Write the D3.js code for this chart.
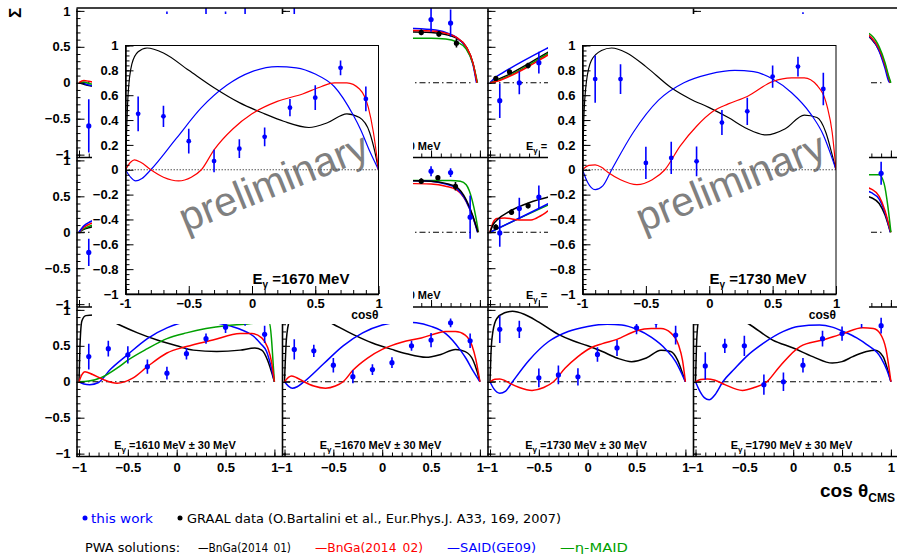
<!DOCTYPE html>
<html>
<head>
<meta charset="utf-8">
<script src="https://cdn.jsdelivr.net/npm/d3@7"></script>
<style>
body { margin: 0; background: #fff; }
svg { display: block; font-family: "Liberation Sans", Arial, sans-serif; }
</style>
</head>
<body>
<div id="chart"></div>
<script>
// ---- data: beam asymmetry Sigma vs cos(theta) ----
const cosBins = [-0.9, -0.7, -0.5, -0.3, -0.1, 0.1, 0.3, 0.5, 0.7, 0.9];

const sig1610 = [0.35, 0.46, 0.375, 0.21, 0.12, 0.39, 0.6, 0.76, 0.9, 0.66];
const err1610 = [0.18, 0.11, 0.12, 0.10, 0.09, 0.08, 0.07, 0.08, 0.12, 0.12];
const sig1670 = [0.45, 0.43, 0.23, 0.07, 0.17, 0.265, 0.5, 0.58, 0.82, 0.57];
const err1670 = [0.14, 0.085, 0.10, 0.09, 0.075, 0.075, 0.07, 0.10, 0.06, 0.10];
const sig1730 = [0.73, 0.73, 0.055, 0.095, 0.068, 0.38, 0.47, 0.75, 0.83, 0.65];
const err1730 = [0.19, 0.12, 0.13, 0.13, 0.12, 0.10, 0.11, 0.09, 0.08, 0.13];
const sig1790 = [0.22, 0.5, 0.5, -0.04, 0.0, 0.23, 0.6, 0.67, 0.85, 0.78];
const err1790 = [0.19, 0.10, 0.14, 0.14, 0.13, 0.10, 0.11, 0.10, 0.10, 0.11];

// PWA curves [cos, sigma]
const bnga01_1610 = [[-1,0],[-0.99,0.5],[-0.97,0.85],[-0.93,0.92],[-0.85,0.93],[-0.75,0.9],[-0.6,0.8],[-0.4,0.68],[-0.2,0.58],[0,0.5],[0.17,0.44],[0.41,0.42],[0.65,0.44],[0.8,0.47],[0.87,0.44],[0.93,0.3],[0.97,0.14],[1,0]];
const bnga02_1610 = [[-1,0],[-0.97,0.1],[-0.94,0.14],[-0.86,0.1],[-0.75,0.03],[-0.61,-0.02],[-0.45,0.05],[-0.3,0.21],[-0.1,0.4],[0.1,0.49],[0.37,0.58],[0.65,0.67],[0.77,0.67],[0.87,0.61],[0.93,0.48],[0.97,0.28],[1,0]];
const said_1610 = [[-1,0],[-0.95,-0.03],[-0.89,-0.04],[-0.8,-0.01],[-0.68,0.17],[-0.5,0.38],[-0.3,0.6],[-0.1,0.75],[0.1,0.83],[0.3,0.84],[0.51,0.79],[0.65,0.73],[0.78,0.64],[0.86,0.53],[0.92,0.42],[0.96,0.24],[1,0]];
const maid_1610 = [[-1,0],[-0.9,0.01],[-0.77,0.06],[-0.6,0.2],[-0.5,0.3],[-0.3,0.46],[-0.1,0.6],[0.1,0.68],[0.3,0.74],[0.5,0.78],[0.7,0.8],[0.85,0.82],[0.95,0.82],[0.97,0.6],[0.985,0.3],[1,0]];

const bnga01_1670 = [[-1,0],[-0.98,0.6],[-0.95,0.85],[-0.9,0.95],[-0.83,0.98],[-0.7,0.94],[-0.5,0.8],[-0.3,0.66],[-0.1,0.54],[0.1,0.45],[0.25,0.39],[0.45,0.34],[0.6,0.38],[0.75,0.45],[0.85,0.42],[0.93,0.3],[0.97,0.15],[1,0]];
const bnga02_1670 = [[-1,0],[-0.96,0.06],[-0.93,0.08],[-0.88,0.06],[-0.8,0],[-0.7,-0.06],[-0.58,-0.09],[-0.48,-0.06],[-0.4,0],[-0.3,0.16],[-0.15,0.33],[0,0.45],[0.2,0.55],[0.4,0.61],[0.55,0.67],[0.65,0.7],[0.75,0.7],[0.85,0.65],[0.92,0.5],[0.96,0.3],[1,0]];
const said_1670 = [[-1,0],[-0.96,-0.06],[-0.92,-0.09],[-0.87,-0.07],[-0.8,0],[-0.6,0.25],[-0.4,0.5],[-0.2,0.68],[0,0.79],[0.2,0.83],[0.35,0.82],[0.5,0.77],[0.65,0.67],[0.8,0.44],[0.86,0.32],[0.93,0.15],[1,0]];

const bnga01_1730 = [[-1,0],[-0.99,0.4],[-0.97,0.7],[-0.93,0.88],[-0.85,0.96],[-0.77,0.98],[-0.65,0.94],[-0.5,0.83],[-0.3,0.66],[-0.15,0.57],[0,0.5],[0.15,0.42],[0.3,0.33],[0.45,0.28],[0.6,0.33],[0.75,0.44],[0.85,0.42],[0.92,0.3],[0.97,0.12],[1,0]];
const bnga02_1730 = [[-1,0],[-0.95,0.035],[-0.9,0.04],[-0.85,0.02],[-0.8,-0.02],[-0.7,-0.08],[-0.57,-0.12],[-0.45,-0.08],[-0.35,0],[-0.23,0.19],[-0.1,0.35],[0.03,0.47],[0.15,0.53],[0.3,0.59],[0.5,0.71],[0.65,0.74],[0.75,0.74],[0.85,0.68],[0.93,0.51],[0.97,0.3],[1,0]];
const said_1730 = [[-1,0],[-0.96,-0.1],[-0.9,-0.16],[-0.84,-0.13],[-0.77,0],[-0.6,0.3],[-0.4,0.56],[-0.2,0.7],[0,0.77],[0.2,0.8],[0.35,0.79],[0.5,0.73],[0.65,0.62],[0.8,0.45],[0.9,0.28],[0.96,0.12],[1,0]];

const bnga01_1790 = [[-1,0],[-0.99,0.5],[-0.97,0.85],[-0.93,0.97],[-0.85,1.0],[-0.7,0.97],[-0.55,0.88],[-0.45,0.8],[-0.21,0.58],[0,0.47],[0.2,0.35],[0.4,0.26],[0.5,0.28],[0.61,0.35],[0.75,0.42],[0.84,0.44],[0.92,0.35],[0.96,0.2],[1,0]];
const bnga02_1790 = [[-1,0],[-0.95,0.03],[-0.88,0.04],[-0.8,0.02],[-0.7,-0.04],[-0.52,-0.12],[-0.4,-0.08],[-0.27,0],[-0.14,0.21],[0.07,0.49],[0.3,0.58],[0.51,0.67],[0.71,0.75],[0.82,0.74],[0.89,0.67],[0.95,0.45],[0.98,0.2],[1,0]];
const said_1790 = [[-1,0],[-0.96,-0.12],[-0.91,-0.22],[-0.86,-0.25],[-0.8,-0.18],[-0.72,0],[-0.6,0.18],[-0.48,0.35],[-0.3,0.54],[-0.1,0.7],[0.05,0.77],[0.27,0.79],[0.4,0.76],[0.51,0.7],[0.65,0.61],[0.75,0.52],[0.9,0.33],[0.96,0.16],[1,0]];

// lower-energy panels (mostly covered by the two enlarged pads)
const bnga01_1130 = [[-1,0],[-0.95,-0.02],[-0.9,-0.04],[-0.84,-0.05]];
const bnga02_1130 = [[-1,0],[-0.95,0.03],[-0.9,0.02],[-0.84,0.0]];
const said_1130 = [[-1,0],[-0.95,-0.01],[-0.9,-0.03],[-0.84,-0.04]];
const maid_1130 = [[-1,0],[-0.95,0.01],[-0.9,-0.01],[-0.84,-0.02]];
const work1130 = { cos: [-0.9, -0.1, 0.3, 0.5, 0.7], sig: [-0.6, 0.86, 0.8, 0.87, 0.9], err: [0.37, 0.13, 0.3, 0.12, 0.2] };

const bnga01_1190 = [[0.25,0.71],[0.5,0.70],[0.65,0.67],[0.76,0.62],[0.86,0.5],[0.93,0.27],[0.97,0]];
const bnga02_1190 = [[0.25,0.73],[0.5,0.72],[0.65,0.69],[0.76,0.63],[0.86,0.5],[0.93,0.27],[0.97,0]];
const said_1190 = [[0.25,0.76],[0.5,0.74],[0.65,0.7],[0.76,0.63],[0.86,0.49],[0.93,0.25],[0.965,0]];
const maid_1190 = [[0.25,0.62],[0.5,0.62],[0.65,0.61],[0.76,0.57],[0.86,0.47],[0.93,0.26],[0.975,0]];
const work1190 = { cos: [-0.9, 0.5, 0.7], sig: [0.8, 0.88, 0.83], err: [0.3, 0.17, 0.19] };
const graal1190 = { cos: [0.4, 0.58, 0.76], sig: [0.70, 0.68, 0.55], err: [0.04, 0.04, 0.06] };

const bnga01_1250 = [[-1,0],[-0.93,0.04],[-0.8,0.12],[-0.6,0.27],[-0.4,0.43],[-0.3,0.5]];
const bnga02_1250 = [[-1,0],[-0.93,0.02],[-0.8,0.09],[-0.6,0.23],[-0.4,0.39],[-0.3,0.46]];
const said_1250 = [[-1,0],[-0.95,0.07],[-0.88,0.13],[-0.4,0.49],[-0.3,0.56]];
const maid_1250 = [[-1,0],[-0.93,0.03],[-0.8,0.1],[-0.6,0.25],[-0.4,0.41],[-0.3,0.48]];
const work1250 = { cos: [-0.9, -0.7, -0.5], sig: [-0.25, 0.0, 0.28], err: [0.24, 0.16, 0.15] };
const graal1250 = { cos: [-0.94, -0.8, -0.61], sig: [0.06, 0.15, 0.24], err: [0.03, 0.03, 0.04] };

const bnga01_1310 = [[0.7,0.68],[0.8,0.61],[0.88,0.45],[0.94,0.23],[0.98,0.05],[0.995,0]];
const bnga02_1310 = [[0.7,0.7],[0.8,0.63],[0.88,0.47],[0.94,0.25],[0.98,0.06],[0.995,0]];
const said_1310 = [[0.7,0.69],[0.8,0.62],[0.88,0.44],[0.94,0.2],[0.975,0.03],[0.99,0]];
const maid_1310 = [[0.7,0.72],[0.8,0.66],[0.88,0.5],[0.94,0.28],[0.98,0.08],[1,0]];
const work1310 = { cos: [0.1], sig: [0.86], err: [0.12] };

const bnga01_1370 = [[-1,0],[-0.95,0.04],[-0.88,0.07],[-0.8,0.1]];
const bnga02_1370 = [[-1,0],[-0.95,0.07],[-0.88,0.12],[-0.8,0.16]];
const said_1370 = [[-1,0],[-0.95,0.09],[-0.88,0.15],[-0.8,0.2]];
const maid_1370 = [[-1,0],[-0.95,0.05],[-0.88,0.09],[-0.8,0.13]];
const work1370 = { cos: [-0.9], sig: [-0.28], err: [0.19] };

const bnga01_1430 = [[0.25,0.72],[0.5,0.71],[0.65,0.68],[0.76,0.63],[0.86,0.45],[0.93,0.22],[0.98,0]];
const bnga02_1430 = [[0.25,0.68],[0.5,0.67],[0.65,0.64],[0.76,0.59],[0.86,0.43],[0.93,0.21],[0.98,0]];
const said_1430 = [[0.25,0.72],[0.5,0.71],[0.65,0.67],[0.76,0.61],[0.86,0.43],[0.93,0.2],[0.975,0]];
const maid_1430 = [[0.25,0.72],[0.5,0.72],[0.7,0.72],[0.8,0.71],[0.86,0.66],[0.92,0.45],[0.96,0.2],[0.985,0]];
const work1430 = { cos: [0.5, 0.7, 0.9], sig: [0.85, 0.83, 0.21], err: [0.07, 0.06, 0.3] };
const graal1430 = { cos: [0.4, 0.57, 0.75], sig: [0.71, 0.76, 0.64], err: [0.04, 0.03, 0.06] };

const bnga01_1490 = [[-1,0],[-0.97,0.1],[-0.92,0.18],[-0.8,0.29],[-0.6,0.41],[-0.4,0.49],[-0.3,0.52]];
const bnga02_1490 = [[-1,0],[-0.97,0.13],[-0.93,0.19],[-0.85,0.2],[-0.7,0.17],[-0.58,0.17],[-0.48,0.23],[-0.4,0.3],[-0.3,0.38]];
const said_1490 = [[-1,0],[-0.4,0.4],[-0.3,0.47]];
const maid_1490 = [[-1,0],[-0.4,0.38],[-0.3,0.44]];
const work1490 = { cos: [-0.9, -0.7, -0.5], sig: [-0.01, 0.33, 0.49], err: [0.19, 0.15, 0.16] };
const graal1490 = { cos: [-0.94, -0.78, -0.61], sig: [0.07, 0.28, 0.37], err: [0.04, 0.04, 0.04] };

const bnga01_1550 = [[0.7,0.52],[0.8,0.48],[0.88,0.4],[0.94,0.24],[0.98,0.07],[0.995,0]];
const bnga02_1550 = [[0.7,0.64],[0.8,0.6],[0.88,0.5],[0.94,0.3],[0.98,0.1],[1,0]];
const said_1550 = [[0.7,0.59],[0.8,0.55],[0.88,0.46],[0.94,0.27],[0.98,0.08],[0.995,0]];
const maid_1550 = [[0.7,0.8],[0.88,0.8],[0.93,0.68],[0.97,0.35],[1,0]];
const work1550 = { cos: [0.9], sig: [0.82], err: [0.16] };

const energyGrid = [[1130, 1190, 1250, 1310], [1370, 1430, 1490, 1550], [1610, 1670, 1730, 1790]];
const yTicksMajor = [-1, -0.5, 0, 0.5, 1];
const xTicksMajor = [-1, -0.5, 0, 0.5, 1];
const insetYTicks = [-1, -0.8, -0.6, -0.4, -0.2, 0, 0.2, 0.4, 0.6, 0.8, 1];
const insetEnergies = [1670, 1730];

const colors = { bnga01: '#000000', bnga02: '#ff0000', said: '#0000ff', maid: '#00a000' };
const workColor = '#0000ff';

// table built from the arrays above
const panels = {
  1130: { curves: { bnga01: bnga01_1130, said: said_1130, maid: maid_1130, bnga02: bnga02_1130 }, work: work1130 },
  1190: { curves: { bnga01: bnga01_1190, said: said_1190, maid: maid_1190, bnga02: bnga02_1190 }, work: work1190, graal: graal1190 },
  1250: { curves: { bnga01: bnga01_1250, said: said_1250, maid: maid_1250, bnga02: bnga02_1250 }, work: work1250, graal: graal1250 },
  1310: { curves: { bnga01: bnga01_1310, said: said_1310, bnga02: bnga02_1310, maid: maid_1310 }, work: work1310 },
  1370: { curves: { bnga01: bnga01_1370, maid: maid_1370, bnga02: bnga02_1370, said: said_1370 }, work: work1370 },
  1430: { curves: { maid: maid_1430, bnga02: bnga02_1430, said: said_1430, bnga01: bnga01_1430 }, work: work1430, graal: graal1430 },
  1490: { curves: { maid: maid_1490, said: said_1490, bnga02: bnga02_1490, bnga01: bnga01_1490 }, work: work1490, graal: graal1490 },
  1550: { curves: { bnga01: bnga01_1550, said: said_1550, bnga02: bnga02_1550, maid: maid_1550 }, work: work1550 },
  1610: { curves: { bnga01: bnga01_1610, said: said_1610, maid: maid_1610, bnga02: bnga02_1610 }, work: { cos: cosBins, sig: sig1610, err: err1610 } },
  1670: { curves: { bnga01: bnga01_1670, said: said_1670, bnga02: bnga02_1670 }, work: { cos: cosBins, sig: sig1670, err: err1670 } },
  1730: { curves: { bnga01: bnga01_1730, said: said_1730, bnga02: bnga02_1730 }, work: { cos: cosBins, sig: sig1730, err: err1730 } },
  1790: { curves: { bnga01: bnga01_1790, said: said_1790, bnga02: bnga02_1790 }, work: { cos: cosBins, sig: sig1790, err: err1790 } }
};

// ---- layout ----
const width = 897, height = 554;
const colMinus1 = [79, 284.5, 490, 695.5];   // pixel of cos = -1 in each column
const unitX = 97.7;
const colStep = 205.5;
const axisOffset = 2.5;
const rowTop = [8, 157.5, 307];
const rowH = 149.5;

const insetPads = [{ x0: 92, x1: 413 }, { x0: 548, x1: 869 }];
const insetFrames = [{ x0: 125.5, x1: 378.5 }, { x0: 582.5, x1: 836 }];
const padTop = 14, padBottom = 324;
const frameTop = 45.5, frameBottom = 294;

const svg = d3.select('#chart').append('svg')
  .attr('width', width)
  .attr('height', height);

const defs = svg.append('defs');
const line = (x, y) => d3.line().x(d => x(d[0])).y(d => y(d[1])).curve(d3.curveMonotoneX);
const range01 = (a, b, s) => d3.range(Math.round(a / s), Math.round(b / s) + 1).map(i => +(i * s).toFixed(3));
const boldFont = s => s.attr('font-size', 13).attr('font-weight', 'bold')
  .attr('font-family', '"Liberation Sans", Arial, sans-serif').attr('fill', '#000');

function drawContent(g, x, y, p, opts) {
  Object.keys(p.curves).forEach(k => {
    g.append('path')
      .datum(p.curves[k])
      .attr('d', line(x, y))
      .attr('fill', 'none')
      .attr('stroke', colors[k])
      .attr('stroke-width', opts.lw);
  });
  const sets = [];
  if (p.graal) sets.push({ s: p.graal, c: '#000' });
  if (p.work) sets.push({ s: p.work, c: workColor });
  sets.forEach(({ s, c }) => {
    const pts = s.cos.map((v, i) => ({ c: v, v: s.sig[i], e: s.err[i] }));
    g.selectAll(null).data(pts).enter().append('line')
      .attr('x1', d => x(d.c)).attr('x2', d => x(d.c))
      .attr('y1', d => y(d.v - d.e)).attr('y2', d => y(d.v + d.e))
      .attr('stroke', c).attr('stroke-width', 1.6);
    g.selectAll(null).data(pts).enter().append('circle')
      .attr('cx', d => x(d.c)).attr('cy', d => y(d.v))
      .attr('r', opts.r).attr('fill', c);
  });
}

function energyLabel(sel, E, sub, dy, tail) {
  sel.append('tspan').text('E');
  sel.append('tspan').text('γ').attr('font-size', sub).attr('dy', dy);
  sel.append('tspan').text(` =${E} MeV${tail}`).attr('dy', -dy);
}

// ---- outer 3x4 grid ----
energyGrid.forEach((rowE, r) => {
  rowE.forEach((E, c) => {
    const x = d3.scaleLinear().domain([-1, 1]).range([colMinus1[c], colMinus1[c] + 2 * unitX]);
    const y = d3.scaleLinear().domain([-1.04, 1.04]).range([rowTop[r] + rowH, rowTop[r]]);
    const ax = colMinus1[c] - axisOffset;
    const g = svg.append('g');
    const clipId = `clip-${r}-${c}`;
    defs.append('clipPath').attr('id', clipId).append('rect')
      .attr('x', ax).attr('y', rowTop[r]).attr('width', colStep).attr('height', rowH);
    const inner = g.append('g').attr('clip-path', `url(#${clipId})`);

    // zero line (dash-dot)
    inner.append('line')
      .attr('x1', x(-1)).attr('x2', x(0.92)).attr('y1', y(0)).attr('y2', y(0))
      .attr('stroke', '#000').attr('stroke-width', 1)
      .attr('stroke-dasharray', '6,3,1.5,3');

    drawContent(inner, x, y, panels[E], { lw: 1.5, r: 2.6 });

    // energy label: only the part that is not under an enlarged pad is drawn
    const ly = y(-0.93);
    if (r === 2) {
      const lab = g.append('text')
        .attr('x', colMinus1[c] + 96).attr('y', ly)
        .attr('text-anchor', 'middle')
        .attr('font-size', 11).attr('font-weight', 'bold');
      energyLabel(lab, E, 8, 3, ' ± 30 MeV');
    } else if (c === 1) {
      const cid = `clip-lab-${r}`;
      defs.append('clipPath').attr('id', cid).append('rect')
        .attr('x', insetPads[0].x1).attr('y', ly - 14).attr('width', 60).attr('height', 20);
      g.append('text')
        .attr('clip-path', `url(#${cid})`)
        .attr('x', colMinus1[c] + 156).attr('y', ly)
        .attr('text-anchor', 'end')
        .attr('font-size', 11).attr('font-weight', 'bold')
        .text('30 MeV');
    } else if (c === 2) {
      const lab = g.append('text')
        .attr('x', colMinus1[c] + 36).attr('y', ly)
        .attr('font-size', 11).attr('font-weight', 'bold');
      lab.append('tspan').text('E');
      lab.append('tspan').text('γ').attr('font-size', 8).attr('dy', 3);
      lab.append('tspan').text(' =').attr('dy', -3);
    }

    // left axis
    g.append('g').attr('transform', `translate(${ax},0)`)
      .call(d3.axisRight(y).tickValues(range01(-1, 1, 0.1)).tickSize(4).tickSizeOuter(0).tickFormat(''))
      .call(s => s.select('.domain').attr('stroke-width', 1.6));
    g.append('g').attr('transform', `translate(${ax},0)`)
      .call(d3.axisRight(y).tickValues(yTicksMajor).tickSize(8).tickSizeOuter(0).tickFormat(''))
      .call(s => s.select('.domain').remove());
    if (c === 0) {
      g.append('g').attr('transform', `translate(${ax - 3},0)`)
        .call(d3.axisLeft(y).tickValues(yTicksMajor).tickSize(0).tickFormat(d3.format('')))
        .call(s => s.select('.domain').remove())
        .call(s => boldFont(s.selectAll('text')));
    }

    // bottom axis
    const by = rowTop[r] + rowH;
    g.append('line').attr('x1', ax).attr('x2', ax + colStep).attr('y1', by).attr('y2', by)
      .attr('stroke', '#000').attr('stroke-width', 1.6);
    g.append('g').attr('transform', `translate(0,${by})`)
      .call(d3.axisTop(x).tickValues(range01(-1, 1, 0.1)).tickSize(4).tickSizeOuter(0).tickFormat(''))
      .call(s => s.select('.domain').remove());
    g.append('g').attr('transform', `translate(0,${by})`)
      .call(d3.axisTop(x).tickValues(xTicksMajor).tickSize(7).tickSizeOuter(0).tickFormat(''))
      .call(s => s.select('.domain').remove());
    if (r === 2) {
      g.append('g').attr('transform', `translate(0,${by + 3})`)
        .call(d3.axisBottom(x).tickValues(xTicksMajor).tickSize(0).tickFormat(d3.format('')))
        .call(s => s.select('.domain').remove())
        .call(s => boldFont(s.selectAll('text')));
    }
  });
});

// top border
svg.append('line').attr('x1', colMinus1[0] - axisOffset).attr('x2', width).attr('y1', rowTop[0]).attr('y2', rowTop[0])
  .attr('stroke', '#000').attr('stroke-width', 1.6);

// ---- enlarged pads ----
insetEnergies.forEach((E, i) => {
  const pad = insetPads[i], fr = insetFrames[i];
  const g = svg.append('g');
  g.append('rect').attr('x', pad.x0).attr('y', padTop)
    .attr('width', pad.x1 - pad.x0).attr('height', padBottom - padTop).attr('fill', '#fff');

  const x = d3.scaleLinear().domain([-1, 1]).range([fr.x0, fr.x1]);
  const y = d3.scaleLinear().domain([-1, 1]).range([frameBottom, frameTop]);
  const clipId = `clip-inset-${i}`;
  defs.append('clipPath').attr('id', clipId).append('rect')
    .attr('x', fr.x0).attr('y', frameTop).attr('width', fr.x1 - fr.x0).attr('height', frameBottom - frameTop);

  // watermark
  g.append('text')
    .attr('transform', `translate(${fr.x0 + 148},${182}) rotate(-22)`)
    .attr('text-anchor', 'middle').attr('dominant-baseline', 'central')
    .attr('font-size', 41).attr('fill', '#808080')
    .text('preliminary');

  const inner = g.append('g').attr('clip-path', `url(#${clipId})`);
  inner.append('line')
    .attr('x1', x(-1)).attr('x2', x(1)).attr('y1', y(0)).attr('y2', y(0))
    .attr('stroke', '#555').attr('stroke-width', 1).attr('stroke-dasharray', '1.5,1.5');
  drawContent(inner, x, y, panels[E], { lw: 1.2, r: 2.4 });

  // frame
  g.append('rect').attr('x', fr.x0).attr('y', frameTop)
    .attr('width', fr.x1 - fr.x0).attr('height', frameBottom - frameTop)
    .attr('fill', 'none').attr('stroke', '#000').attr('stroke-width', 1);

  // axes
  g.append('g').attr('transform', `translate(${fr.x0},0)`)
    .call(d3.axisRight(y).tickValues(range01(-1, 1, 0.04)).tickSize(4).tickSizeOuter(0).tickFormat(''))
    .call(s => s.select('.domain').attr('stroke-width', 1.5));
  g.append('g').attr('transform', `translate(${fr.x0},0)`)
    .call(d3.axisRight(y).tickValues(insetYTicks).tickSize(8).tickSizeOuter(0).tickFormat(''))
    .call(s => s.select('.domain').remove());
  g.append('g').attr('transform', `translate(${fr.x0 - 4},0)`)
    .call(d3.axisLeft(y).tickValues(insetYTicks).tickSize(0).tickFormat(d3.format('')))
    .call(s => s.select('.domain').remove())
    .call(s => boldFont(s.selectAll('text')));

  g.append('g').attr('transform', `translate(0,${frameBottom})`)
    .call(d3.axisTop(x).tickValues(range01(-1, 1, 0.1)).tickSize(4).tickSizeOuter(0).tickFormat(''))
    .call(s => s.select('.domain').attr('stroke-width', 1.5));
  g.append('g').attr('transform', `translate(0,${frameBottom})`)
    .call(d3.axisTop(x).tickValues(xTicksMajor).tickSize(8).tickSizeOuter(0).tickFormat(''))
    .call(s => s.select('.domain').remove());
  g.append('g').attr('transform', `translate(0,${frameBottom + 2})`)
    .call(d3.axisBottom(x).tickValues(xTicksMajor.slice(1)).tickSize(0).tickFormat(d3.format('')))
    .call(s => s.select('.domain').remove())
    .call(s => boldFont(s.selectAll('text')));
  // the "-1" of the x axis sits just under the "-1" of the y axis
  g.append('text').attr('x', fr.x0).attr('y', frameBottom + 14)
    .attr('text-anchor', 'middle').call(boldFont).text('-1');

  g.append('text').attr('x', fr.x1).attr('y', 319).attr('text-anchor', 'end')
    .attr('font-size', 12).attr('font-weight', 'bold').text('cosθ');

  const lab = g.append('text').attr('x', fr.x0 + 127).attr('y', 284)
    .attr('font-size', 15).attr('font-weight', 'bold');
  energyLabel(lab, E, 10, 4, '');
});

// ---- axis titles ----
svg.append('text')
  .attr('transform', 'translate(15,13) rotate(-90)')
  .attr('text-anchor', 'middle').attr('dominant-baseline', 'central')
  .attr('font-size', 17).attr('font-weight', 'bold').text('Σ');

const xt = svg.append('text').attr('x', 820).attr('y', 497).attr('font-weight', 'bold');
xt.append('tspan').text('cos θ').attr('font-size', 19);
xt.append('tspan').text('CMS').attr('font-size', 12).attr('dy', 5);

// ---- legend ----
const legendFont = '"Liberation Sans Narrow", "DejaVu Sans Condensed", "Liberation Sans", sans-serif';
const legendMarkers = [
  { x: 85, y: 518, color: workColor, text: 'this work', tx: 91, w: 62 },
  { x: 180, y: 518, color: '#000', text: 'GRAAL data (O.Bartalini et al., Eur.Phys.J. A33, 169, 2007)', tx: 187, w: 374 }
];
legendMarkers.forEach(d => {
  svg.append('circle').attr('cx', d.x).attr('cy', d.y).attr('r', 2.5).attr('fill', d.color);
  svg.append('text').attr('x', d.tx).attr('y', d.y + 4.5)
    .attr('font-family', legendFont).attr('font-size', 13).attr('fill', d.color)
    .attr('textLength', d.w).attr('lengthAdjust', 'spacingAndGlyphs').text(d.text);
});

const legendLines = [
  { text: 'PWA solutions:', color: '#000', x: 85, w: 95 },
  { text: '—BnGa(2014_01)', color: colors.bnga01, x: 198, w: 93 },
  { text: '—BnGa(2014_02)', color: colors.bnga02, x: 315, w: 108 },
  { text: '—SAID(GE09)', color: colors.said, x: 447, w: 89 },
  { text: '—η-MAID', color: colors.maid, x: 560, w: 68 }
];
legendLines.forEach(d => {
  svg.append('text').attr('x', d.x).attr('y', 551.5)
    .attr('font-family', legendFont).attr('font-size', 13).attr('fill', d.color)
    .attr('textLength', d.w).attr('lengthAdjust', 'spacingAndGlyphs').text(d.text);
});
</script>
</body>
</html>
